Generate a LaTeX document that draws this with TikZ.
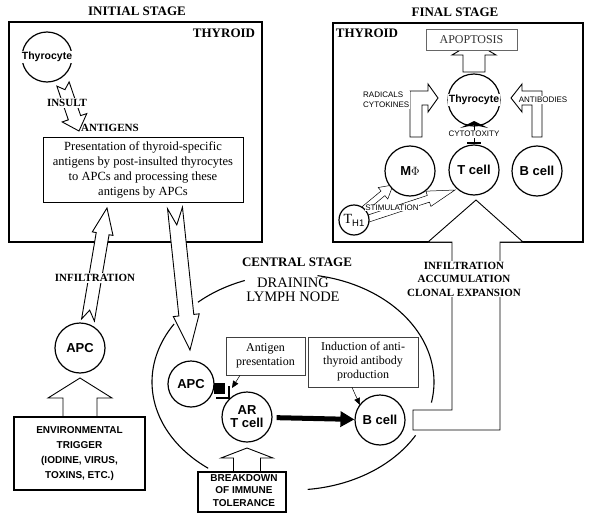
\documentclass[tikz,border=0pt]{standalone}
\usepackage{fontspec}
\setmainfont{Liberation Serif}
\setsansfont{Liberation Sans}
\usetikzlibrary{calc,arrows.meta}
% hollow block arrow: [opts]{tail}{tip}{shaft half width}{head half width}{head length}{tail notch}
\newcommand{\blockarrow}[7][]{%
  \draw[blockarrow,#1] let \p1=($(#3)-(#2)$), \n1={atan2(\y1,\x1)}, \n2={veclen(\x1,\y1)} in
  [shift={(#2)},rotate=\n1] ({#7},0) -- (0,{#4}) -- ({\n2-#6},{#4}) -- ({\n2-#6},{#5}) -- ({\n2},0)
  -- ({\n2-#6},{-#5}) -- ({\n2-#6},{-#4}) -- (0,{-#4}) -- cycle;}
\begin{document}
\begin{tikzpicture}[x=1pt,y=-1pt,
  stagebox/.style={draw, line width=1.6, inner sep=0},
  cell/.style={draw, circle, line width=1.2, inner sep=0, fill=white, align=center,
    font=\sffamily\bfseries\fontsize{13}{15}\selectfont},
  blockarrow/.style={draw, fill=white, line width=0.9, line join=miter},
  title/.style={font=\bfseries\fontsize{13}{15}\selectfont},
  txtbox/.style={draw, line width=0.7, inner sep=0, fill=white, align=center,
    font=\fontsize{12}{14}\selectfont},
  capsans/.style={font=\sffamily\bfseries\fontsize{10}{15.3}\selectfont, align=center},
  smallsans/.style={font=\sffamily\fontsize{8}{10}\selectfont},
  bserif/.style={font=\bfseries\fontsize{11}{13.5}\selectfont, align=center},
  wbg/.style={fill=white, inner sep=1},
  node/.style={line width=1.1},
]
\useasboundingbox[fill=white] (0,0) rectangle (600,514);

% ---------- stage boxes ----------
\node[stagebox, minimum width=253, minimum height=220] (thyL) at (135.5,132) {};
\node[stagebox, minimum width=250, minimum height=219] (thyR) at (458,132.5) {};

% ---------- lymph node outline ----------
\begin{scope}[line width=1.1]
\draw plot[domain=-80:11, samples=60, variable=\t] ({293+141*cos(\t)},{382+108*sin(\t)});
\draw plot[domain=29.6:84, samples=40, variable=\t] ({293+141*cos(\t)},{382+108*sin(\t)});
\draw plot[domain=127:212.5, samples=60, variable=\t] ({293+141*cos(\t)},{382+108*sin(\t)});
\draw plot[domain=227.6:250, samples=20, variable=\t] ({293+141*cos(\t)},{382+108*sin(\t)});
\end{scope}

% ---------- arrow end points ----------
\coordinate (insT) at (63,84);   \coordinate (insH) at (79,131);
\coordinate (infT) at (88,320);  \coordinate (infH) at (107,208);
\coordinate (dnT) at (175,208);  \coordinate (dnH) at (190,350);
\coordinate (envT) at (80,417);  \coordinate (envH) at (80,378);
\coordinate (brkT) at (247,472); \coordinate (brkH) at (247,448);
\coordinate (st1T) at (364,209); \coordinate (st1H) at (393,185);
\coordinate (st2T) at (367,219); \coordinate (st2H) at (455,190);

% ---------- hollow arrows ----------
\blockarrow{insT}{insH}{6.5}{13}{14}{6}
\blockarrow{infT}{infH}{6.5}{10.5}{26}{10}
\blockarrow{dnT}{dnH}{7.5}{13}{35}{17}
\blockarrow{envT}{envH}{17}{32}{20}{0}
\blockarrow{brkT}{brkH}{13.5}{26}{10}{0}
\blockarrow[line width=0.5]{st1T}{st1H}{3}{7.5}{13}{0}
\blockarrow[line width=0.5]{st2T}{st2H}{3.5}{8}{28}{0}

% infiltration / accumulation / clonal expansion arrow
\draw[blockarrow] (413,430) -- (500,430) -- (500,242) -- (523,242) -- (476,200) -- (428,242)
  -- (452,242) -- (452,410) -- (413,410) -- cycle;
% apoptosis arrow
\draw[blockarrow] (463,72) -- (463,55) -- (452,55) -- (474,42) -- (496,55) -- (485,55) -- (485,72) -- cycle;
% radicals / cytokines arrow
\draw[blockarrow] (410,137) -- (410,91) -- (428,91) -- (428,84) -- (438,98) -- (428,112)
  -- (428,105) -- (422,105) -- (422,137) -- cycle;
% antibodies arrow
\draw[blockarrow] (542,137) -- (542,91) -- (522,91) -- (522,84) -- (511,98) -- (522,112)
  -- (522,105) -- (532,105) -- (532,137) -- cycle;
% cytotoxicity
\draw[line width=0.8] (474,143) -- (474,123);
\fill (460,128) -- (474,121) -- (488,128) -- (474,125) -- cycle;
\draw[line width=2] (467,143) -- (481,143);

% ---------- boxes ----------
\node[txtbox, minimum width=200, minimum height=65, font=\fontsize{12.5}{15}\selectfont] (pres) at (143,169.5)
  {Presentation of thyroid-specific\\antigens by post-insulted thyrocytes\\to APCs and processing these\\antigens by APCs};
\node[stagebox, line width=1.4, fill=white, minimum width=131, minimum height=73] (envbox) at (79.5,453.5) {};
\node[stagebox, line width=1.4, fill=white, minimum width=88, minimum height=40] (brkbox) at (242,492) {};
\node[txtbox, draw=black!75, minimum width=79, minimum height=38] (apbox) at (265.5,356) {Antigen\\presentation};
\node[txtbox, draw=black!75, minimum width=110, minimum height=50] (indbox) at (363,362)
  {Induction of anti-\\thyroid antibody\\production};
\node[txtbox, draw=black!60, minimum width=91, minimum height=21, text=black!80] (apop) at (471.5,39.5) {APOPTOSIS};

% ---------- cells ----------
\node[cell, minimum size=50, fill=none] (thyLc) at (47,57) {};
\node[cell, minimum size=50] (apcL) at (80,348) {APC};
\node[cell, minimum size=46] (apcN) at (191,384) {APC};
\node[cell, minimum size=50] (art) at (247,417) {AR\\[-2pt]T cell};
\node[cell, minimum size=50] (lb) at (380,420) {B cell};
\node[cell, minimum size=52, fill=none] (thyRc) at (474,100) {};
\node[cell, minimum size=50] (mphi) at (410,171) {M$\Phi$};
\node[cell, minimum size=50] (tc) at (474,170) {T cell};
\node[cell, minimum size=50] (bc) at (537,171) {B cell};
\node[cell, minimum size=30, font=\fontsize{14}{14}\selectfont] (th1) at (354,220)
  {T\raisebox{-3pt}{\sffamily\fontsize{9.5}{10}\selectfont H1}};

% antigen-presenting contact
\node[fill=black, minimum size=11, inner sep=0] (sq) at (219,388) {};
\draw[line width=1.5] (216,398) -- (229,398) -- (229,386);
\coordinate (apTip) at (232,388);
\coordinate (indTip) at (360,405);
\draw[line width=0.5, -{Triangle[length=7pt,width=6pt]}] ($(apbox.south west)!0.18!(apbox.south east)$) -- (apTip);
\draw[line width=0.5, -{Triangle[length=7pt,width=6pt]}] ($(indbox.south west)!0.4!(indbox.south east)$) -- (indTip);
% thick activation arrow
\draw[line width=5, -{Triangle[length=14pt,width=15pt]}, shorten <=4] (art) -- (lb);

% ---------- texts ----------
\node[title] (tInit) at (137,11) {INITIAL STAGE};
\node[title] (tFinal) at (455,12) {FINAL STAGE};
\node[title] (tCentral) at (297,262) {CENTRAL STAGE};
\node[title] (thyLlbl) at (224,33) {THYROID};
\node[title] (thyRlbl) at (367,33) {THYROID};
\node[font=\fontsize{14.5}{14}\selectfont, align=center] (dln) at (293,290) {DRAINING\\LYMPH NODE};

\node[wbg, font=\sffamily\bfseries\fontsize{10.5}{12}\selectfont] (thyLt) at (thyLc) {Thyrocyte};
\node[wbg, font=\sffamily\bfseries\fontsize{10.5}{12}\selectfont] (thyRt) at (thyRc) {Thyrocyte};
\node[bserif, wbg] (insult) at (67,103) {INSULT};
\node[bserif, anchor=west, inner sep=0] (antig) at (81,128) {ANTIGENS};
\node[bserif, wbg] (infil) at (95,278) {INFILTRATION};
\node[bserif, wbg] (iac) at (464,279) {INFILTRATION\\ACCUMULATION\\CLONAL EXPANSION};
\node[capsans] (envt) at (envbox) {ENVIRONMENTAL\\TRIGGER\\(IODINE, VIRUS,\\TOXINS, ETC.)};
\node[capsans, font=\sffamily\bfseries\fontsize{10}{12.5}\selectfont] (brkt) at (244,490.5) {BREAKDOWN\\OF IMMUNE\\TOLERANCE};
\node[smallsans, wbg, anchor=west, align=left] (radt) at (362,100) {RADICALS\\CYTOKINES};
\node[smallsans, wbg] (abt) at (543,100) {ANTIBODIES};
\node[smallsans, wbg] (cytt) at (474,134) {CYTOTOXITY};
\node[smallsans, fill=white, inner sep=0.5] (stimt) at (392,208) {STIMULATION};
\end{tikzpicture}
\end{document}
